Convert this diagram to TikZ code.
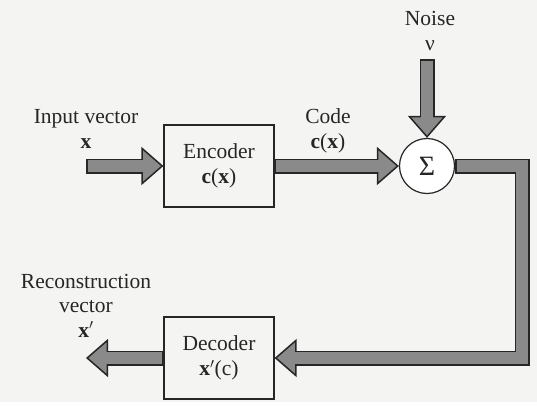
\documentclass[tikz,border=0pt]{standalone}
\usepackage{fontspec}
\setmainfont{Liberation Serif}
\usetikzlibrary{arrows.meta,positioning,calc}
\definecolor{scanInk}{HTML}{262626}
\definecolor{scanGrey}{HTML}{8A8A8A}
\definecolor{scanPaper}{HTML}{F4F4F2}
\tikzset{
  block/.style={
    rectangle,
    draw=scanInk,
    fill=scanPaper,
    line width=1.2pt,
    minimum width=110pt,
    minimum height=82pt,
    align=center,
    text=scanInk,
    font=\fontsize{21.5}{25}\selectfont
  },
  adder/.style={
    circle,
    draw=scanInk,
    fill=white,
    line width=1.2pt,
    minimum size=55pt,
    inner sep=0pt,
    text=scanInk,
    font=\fontsize{28}{30}\selectfont
  },
  caption/.style={
    align=center,
    text=scanInk,
    font=\fontsize{21.5}{24.5}\selectfont
  },
  fatArrow/.style={
    line width=15pt,
    draw=scanInk,
    line join=miter,
    -{Triangle[length=22pt,width=38pt,line width=1.5pt,fill=scanGrey]},
    postaction={draw=scanGrey,line width=12pt,-,shorten >=17pt,shorten <=1.5pt}
  }
}
\begin{document}
\begin{tikzpicture}[x=1pt,y=-1pt]
  \useasboundingbox (0,0) rectangle (537,410);
  \fill[scanPaper] (0,0) rectangle (537,410);
  \fill[white] (0,402) rectangle (537,410);
  % blocks
  \node[block] (enc) at (219,166) {Encoder\\\textbf{c}(\textbf{x})};
  \node[adder] (sum) at (427,166) {Σ};
  \node[block] (dec) at (219,358) {Decoder\\\textbf{x}$'$(c)};
  % free ends
  \coordinate (in) at (86,166);
  \coordinate (out) at (86,358);
  \coordinate (noise) at (427,59);
  \coordinate (turn) at (522,264);
  % labels (base = last line)
  \node[caption,anchor=base] (inlbl) at (86,148) {Input vector\\\textbf{x}};
  \node[caption,anchor=base] (codelbl) at (328,148) {Code\\\textbf{c}(\textbf{x})};
  \node[caption,anchor=base] (noiselbl) at (430,50) {Noise\\ν};
  \node[caption,anchor=base] (outlbl) at (86,337) {Reconstruction\\vector\\\textbf{x}$'$};
  % connectors
  \draw[fatArrow] (in) -- (enc.west);
  \draw[fatArrow] (enc.east) -- (sum.west);
  \draw[fatArrow] (noise) -- (sum.north);
  \draw[fatArrow] (sum.east) -| (turn) |- (dec.east);
  \draw[fatArrow] (dec.west) -- (out);
\end{tikzpicture}
\end{document}
